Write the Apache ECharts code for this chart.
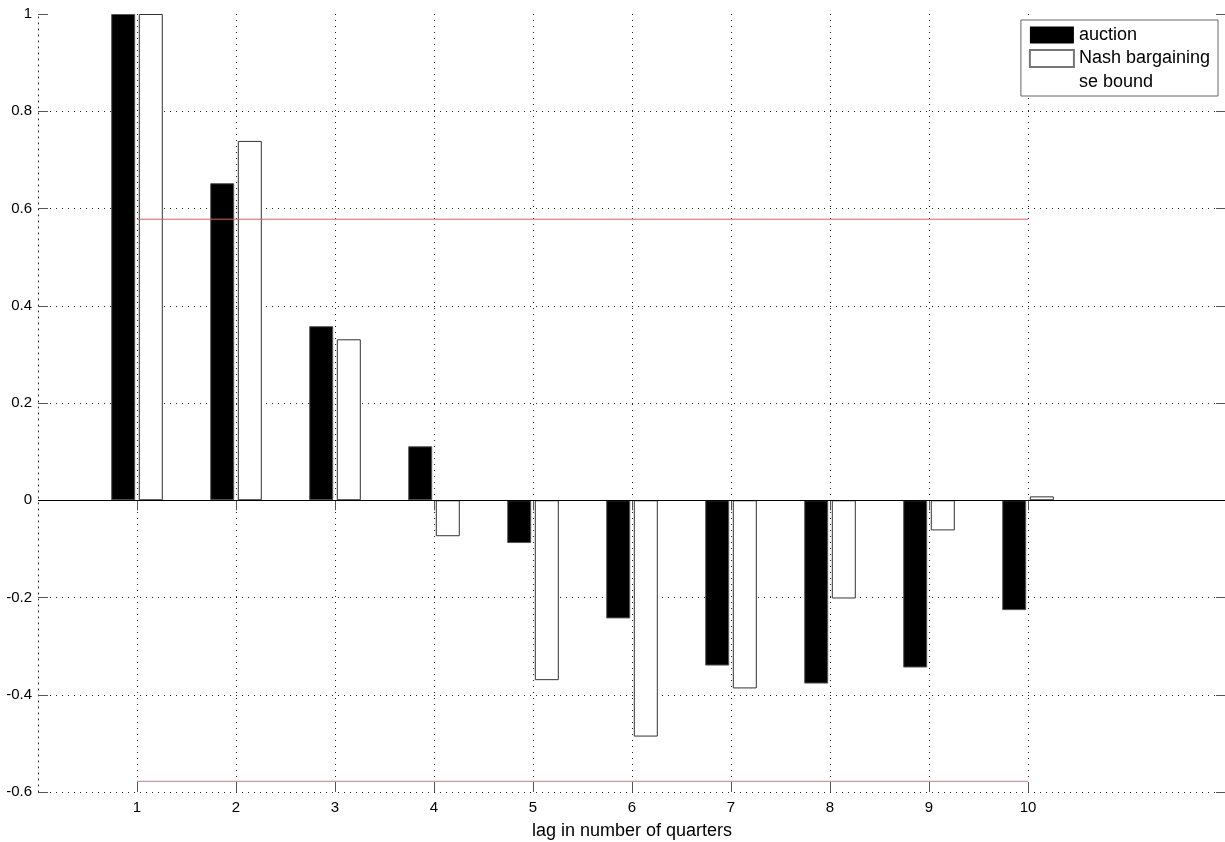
<!DOCTYPE html>
<html>
<head>
<meta charset="utf-8">
<script src="https://cdn.jsdelivr.net/npm/echarts@6/dist/echarts.min.js"></script>
<style>
  html, body { margin: 0; padding: 0; background: #fff; }
  #main { width: 1225px; height: 842px; }
</style>
</head>
<body>
<div id="main"></div>
<script>
// lags shown on the x axis, the axis itself runs from 0 to 12
const lags = ['1', '2', '3', '4', '5', '6', '7', '8', '9', '10'];
const auction = [1.0, 0.652, 0.358, 0.111, -0.088, -0.243, -0.340, -0.377, -0.344, -0.226];
const nash = [1.0, 0.739, 0.331, -0.074, -0.370, -0.486, -0.387, -0.202, -0.062, 0.008];
const seBound = 0.578;

// pad categories so the axis goes 0..12 like the matlab plot
const cats = ['0'].concat(lags, ['11', '12']);
const pad = arr => [null].concat(arr, [null, null]);
const inRange = idx => idx >= 1 && idx <= lags.length;

const font = 'Liberation Sans, Arial, Helvetica, sans-serif';
const dotted = { color: '#222', width: 1, type: [1, 5] };
const tickStyle = { color: '#555' };

let myChart = echarts.init(document.getElementById('main'));
myChart.setOption({
  animation: false,
  textStyle: { fontFamily: font },
  grid: { left: 38, right: -1, top: 14, bottom: 50, outerBoundsMode: 'none', containLabel: false },
  legend: {
    orient: 'vertical',
    right: 7,
    top: 20,
    padding: [6, 8, 5, 8],
    itemWidth: 44,
    itemHeight: 17,
    itemGap: 5,
    backgroundColor: '#fff',
    borderColor: '#666',
    borderWidth: 1,
    borderRadius: 0,
    textStyle: { fontFamily: font, fontSize: 18, color: '#000' },
    data: [
      { name: 'auction', icon: 'rect', itemStyle: { borderWidth: 0 } },
      { name: 'Nash bargaining', icon: 'rect', itemStyle: { borderColor: '#777' } },
      { name: 'se bound', icon: 'rect', itemStyle: { opacity: 0 } }
    ]
  },
  xAxis: [
    {
      type: 'category',
      data: cats,
      boundaryGap: false,
      name: 'lag in number of quarters',
      nameLocation: 'middle',
      nameGap: 30,
      nameTextStyle: { fontFamily: font, fontSize: 18, color: '#000' },
      axisLine: { show: false, onZero: false },
      axisTick: { show: true, inside: true, length: 10, interval: inRange, lineStyle: tickStyle },
      axisLabel: {
        interval: 0, margin: 8, fontFamily: font, fontSize: 15, color: '#000',
        formatter: (v, i) => (inRange(i) ? v : '')
      },
      splitLine: { show: true, interval: inRange, lineStyle: dotted }
    },
    {
      type: 'category',
      data: cats,
      boundaryGap: false,
      position: 'top',
      axisLine: { show: false },
      axisTick: { show: true, inside: true, length: 10, interval: inRange, lineStyle: tickStyle },
      axisLabel: { show: false },
      splitLine: { show: false }
    }
  ],
  yAxis: [
    {
      type: 'value',
      min: -0.6,
      max: 1,
      interval: 0.2,
      axisLine: { show: true, lineStyle: dotted },
      axisTick: { show: true, inside: true, length: 10, lineStyle: tickStyle },
      axisLabel: {
        margin: 6, fontFamily: font, fontSize: 15, color: '#000',
        formatter: v => String(Math.round(v * 10) / 10)
      },
      splitLine: { show: true, showMaxLine: false, showMinLine: true, lineStyle: dotted }
    },
    {
      type: 'value',
      min: -0.6,
      max: 1,
      interval: 0.2,
      position: 'right',
      axisLine: { show: false },
      axisTick: { show: true, inside: true, length: 10, lineStyle: tickStyle },
      axisLabel: { show: false },
      splitLine: { show: false }
    }
  ],
  series: [
    {
      name: 'auction',
      type: 'bar',
      data: pad(auction),
      barWidth: 24,
      barGap: '15%',
      itemStyle: { color: '#000', borderColor: '#555', borderWidth: 1 },
      markLine: {
        silent: true,
        symbol: 'none',
        label: { show: false },
        lineStyle: { color: '#000', width: 1, type: 'solid' },
        data: [{ yAxis: 0 }]
      }
    },
    {
      name: 'Nash bargaining',
      type: 'bar',
      data: pad(nash),
      barWidth: 24,
      barGap: '15%',
      itemStyle: { color: '#fff', borderColor: '#333', borderWidth: 1 }
    },
    {
      name: 'se bound',
      type: 'line',
      data: pad(lags.map(() => seBound)),
      showSymbol: false,
      symbol: 'none',
      itemStyle: { color: '#ff5050' },
      lineStyle: { color: '#ff5050', width: 1 },
      z: 5
    },
    {
      name: 'se bound',
      type: 'line',
      data: pad(lags.map(() => -seBound)),
      showSymbol: false,
      symbol: 'none',
      itemStyle: { color: '#ff5050' },
      lineStyle: { color: '#ee6a6a', width: 1 },
      z: 5
    }
  ]
});
</script>
</body>
</html>
